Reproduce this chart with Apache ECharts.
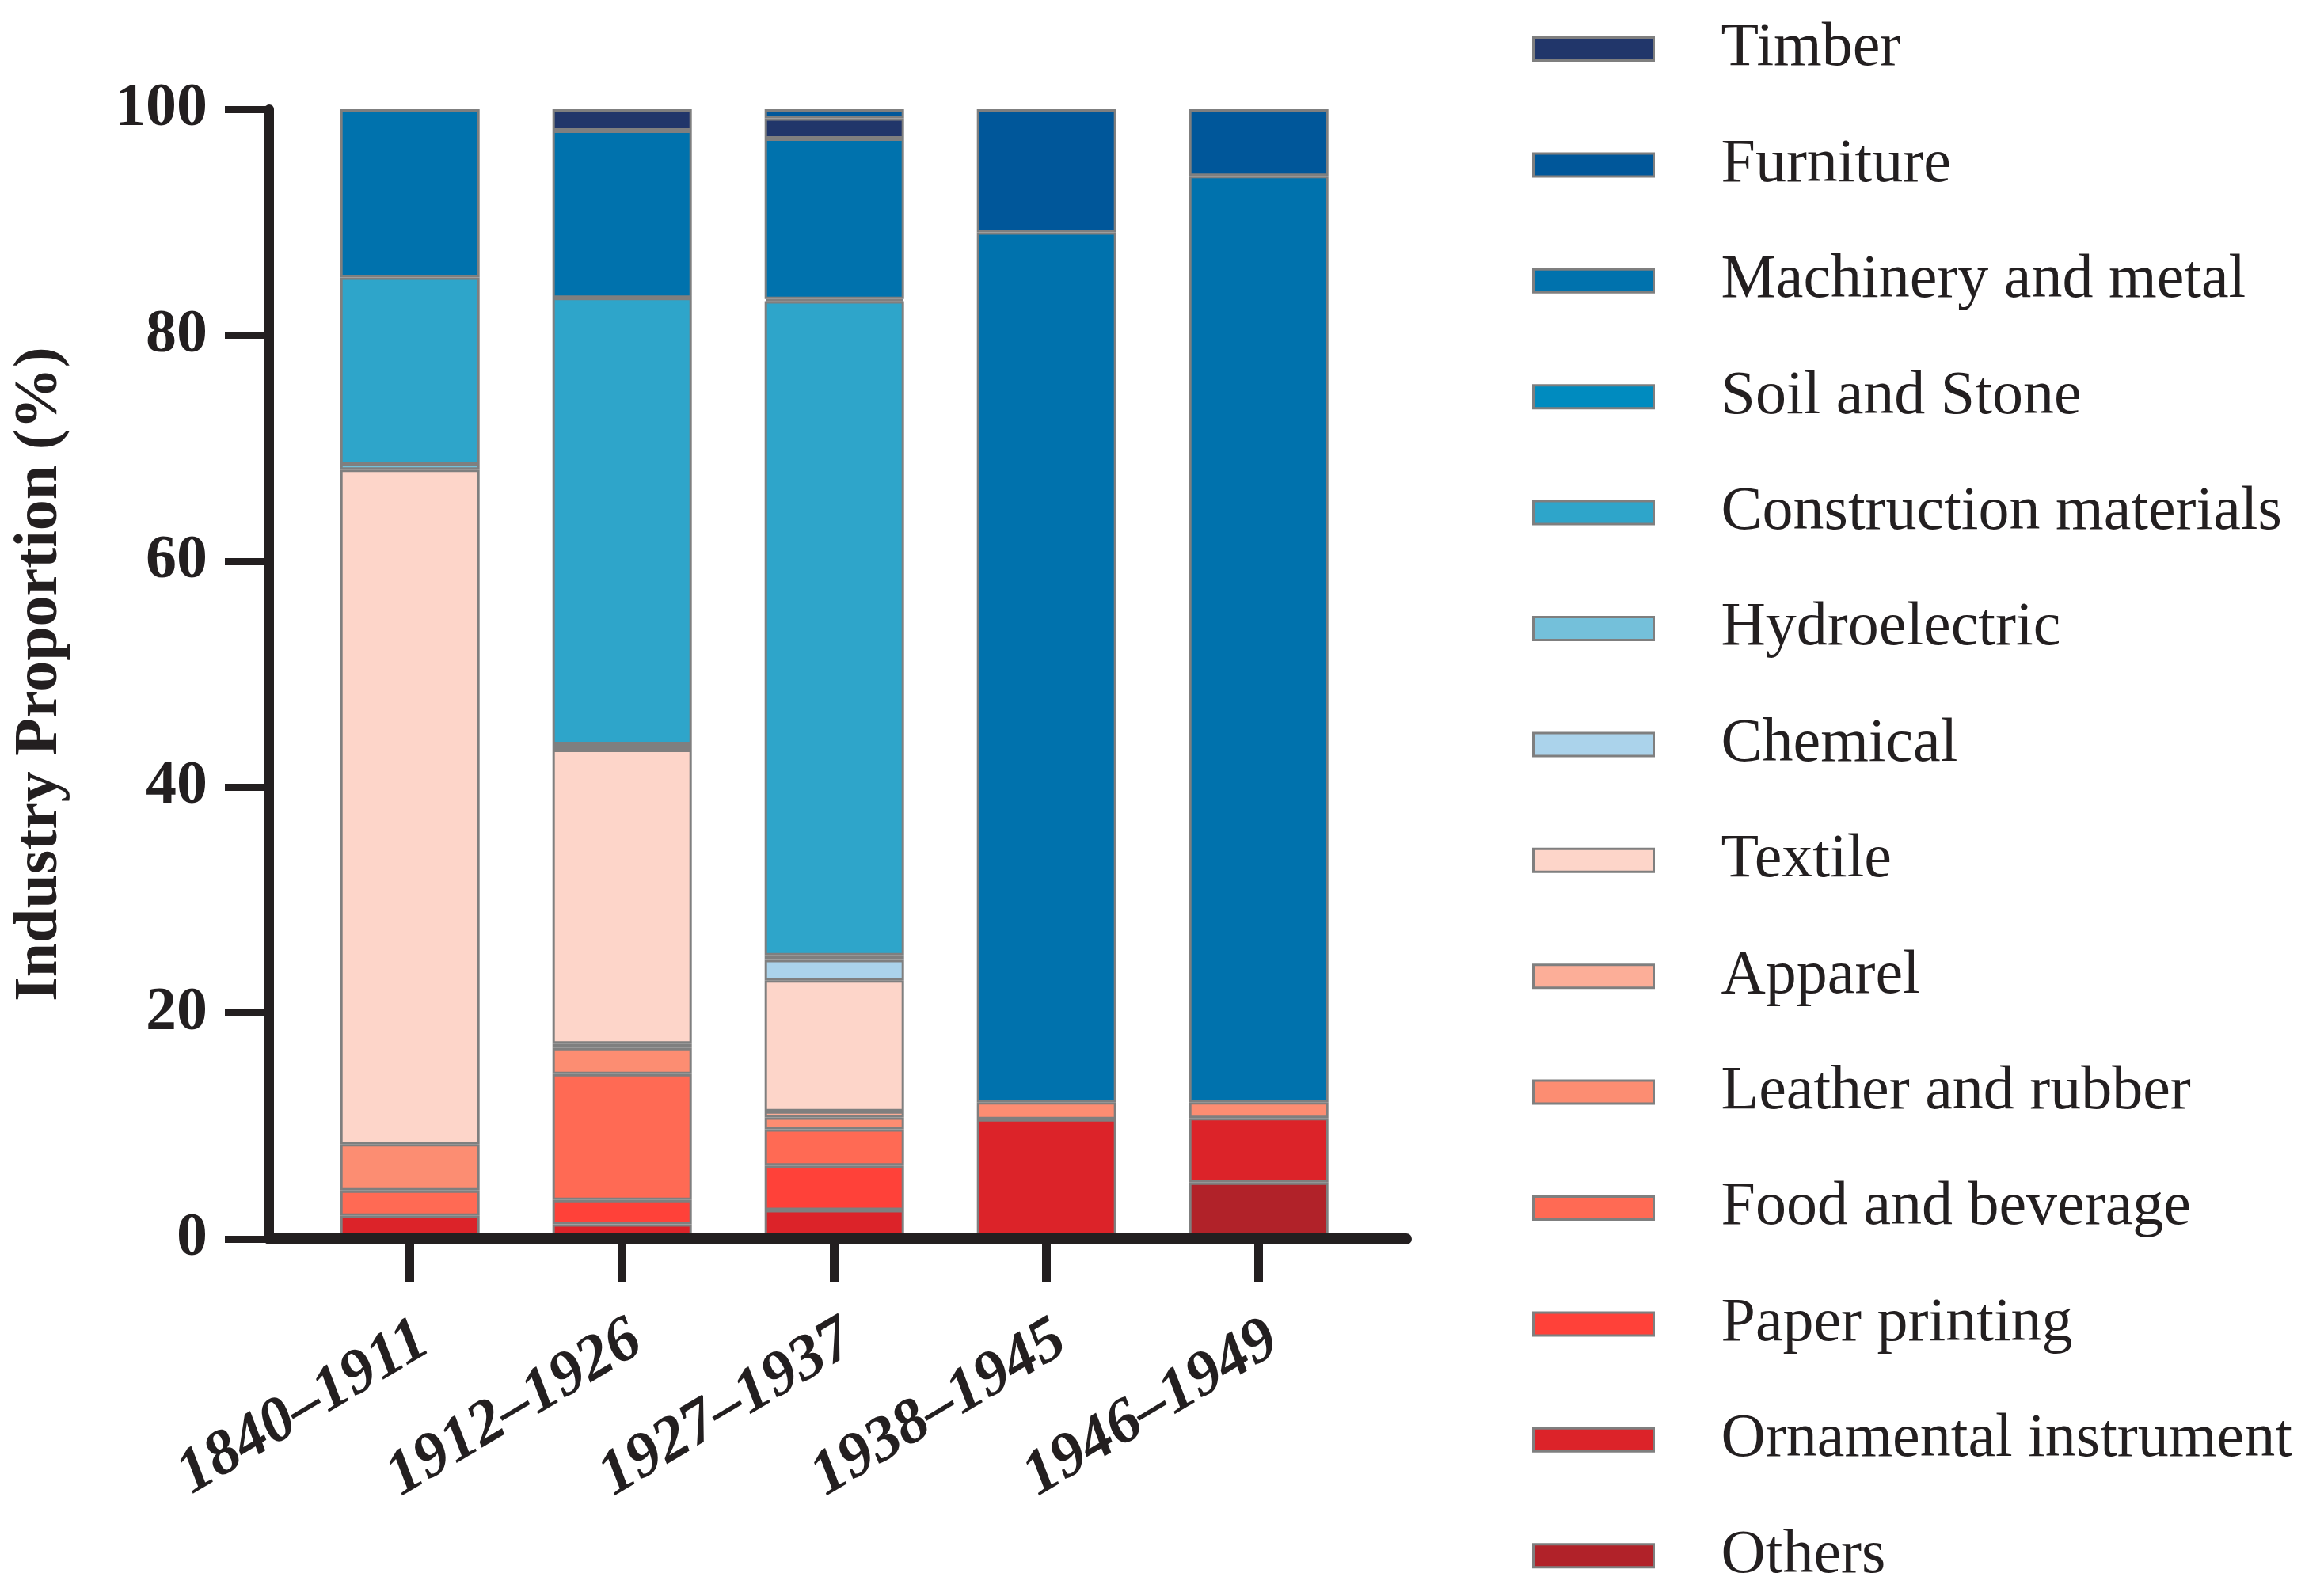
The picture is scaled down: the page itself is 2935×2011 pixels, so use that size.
<!DOCTYPE html>
<html>
<head>
<meta charset="utf-8">
<script src="https://cdn.jsdelivr.net/npm/echarts@6/dist/echarts.min.js"></script>
<style>
html,body{margin:0;padding:0;background:#fff;}
#chart{width:2935px;height:2011px;}
</style>
</head>
<body>
<div id="chart"></div>
<script>
const categories = ['1840–1911', '1912–1926', '1927–1937', '1938–1945', '1946–1949'];
const yTicks = [0, 20, 40, 60, 80, 100];

// values (%) per period, stacked bottom -> top
const others       = [0,     0,     0,     0,    5.0];
const ornamental   = [2.05,  1.3,   2.55,  10.6, 5.7];
const paper        = [0,     2.15,  3.95,  0,    0];
const food         = [2.25,  11.15, 3.2,   0,    0];
const leather      = [4.1,   2.3,   1.05,  1.5,  1.4];
const apparel      = [0,     0.4,   0.55,  0,    0];
const textile      = [59.7,  26.0,  11.6,  0,    0];
const chemical     = [0,     0,     1.8,   0,    0];
const hydro        = [0.5,   0.5,   0.4,   0,    0];
const construction = [16.5,  39.5,  57.9,  0,    0];
const soil         = [0,     0,     0.2,   0,    0];
const machinery    = [14.9,  14.8,  14.2,  77.0, 82.0];
const timber       = [0,     1.9,   1.8,   0,    0];
const furniture    = [0,     0,     0.8,   10.9, 5.9];

const stackOrder = [
  ['Others', others, '#B12229'],
  ['Ornamental instrument', ornamental, '#DC2329'],
  ['Paper printing', paper, '#FF4139'],
  ['Food and beverage', food, '#FF6A54'],
  ['Leather and rubber', leather, '#FC8D72'],
  ['Apparel', apparel, '#FCAE98'],
  ['Textile', textile, '#FDD5C9'],
  ['Chemical', chemical, '#ABD3EB'],
  ['Hydroelectric', hydro, '#74C0DA'],
  ['Construction materials', construction, '#2EA5CA'],
  ['Soil and Stone', soil, '#008BBF'],
  ['Machinery and metal', machinery, '#0072AD'],
  ['Timber', timber, '#21366A'],
  ['Furniture', furniture, '#00579A']
];
const legendOrder = ['Timber', 'Furniture', 'Machinery and metal', 'Soil and Stone',
  'Construction materials', 'Hydroelectric', 'Chemical', 'Textile', 'Apparel',
  'Leather and rubber', 'Food and beverage', 'Paper printing', 'Ornamental instrument', 'Others'];

const FONT = 'Liberation Serif';
const INK = '#231F20';
const catIdx = categories.map((c, i) => i);

const series = stackOrder.map(([name, vals, color]) => ({
  name: name,
  type: 'bar',
  stack: 'total',
  xAxisIndex: 1,
  yAxisIndex: 1,
  barWidth: 176,
  data: vals.map(v => (v === 0 ? '-' : v)),
  itemStyle: { color: color, borderColor: '#7F7F7F', borderWidth: 3 },
  emphasis: { disabled: true }
}));

const chart = echarts.init(document.getElementById('chart'), null, { renderer: 'canvas' });
chart.setOption({
  animation: false,
  backgroundColor: '#ffffff',
  grid: [
    { left: 340, right: 1159, top: 138, bottom: 446, containLabel: false },
    { left: 383.7, right: 1211.3, top: 138, bottom: 446, containLabel: false }
  ],
  legend: {
    orient: 'vertical',
    left: 1935,
    top: 22,
    height: 1989,
    padding: 0,
    itemWidth: 152,
    itemHeight: 29,
    itemGap: 66.4,
    icon: 'rect',
    data: legendOrder,
    itemStyle: { borderColor: '#7F7F7F', borderWidth: 3 },
    textStyle: { fontFamily: FONT, fontSize: 78, color: INK, lineHeight: 80, padding: [0, 0, 0, 80] }
  },
  xAxis: [
    {
      gridIndex: 0,
      type: 'value',
      min: -0.662,
      max: 4.695,
      z: 10,
      splitLine: { show: false },
      axisLine: { show: true, onZero: false, lineStyle: { color: INK, width: 14 } },
      axisTick: { show: true, length: 54, lineStyle: { color: INK, width: 11 }, customValues: catIdx },
      axisLabel: {
        customValues: catIdx.map(i => i + 0.07),
        formatter: v => categories[Math.round(v)],
        rotate: 31,
        margin: 122,
        fontFamily: FONT, fontSize: 80, fontWeight: 'bold', fontStyle: 'italic', color: INK
      }
    },
    {
      gridIndex: 1,
      type: 'category',
      data: categories,
      show: false
    }
  ],
  yAxis: [
    {
      gridIndex: 0,
      type: 'value',
      min: 0, max: 100, interval: 20,
      z: 10,
      name: 'Industry Proportion (%)',
      nameLocation: 'middle',
      nameGap: 250,
      nameTextStyle: { fontFamily: FONT, fontSize: 78, fontWeight: 'bold', color: INK },
      splitLine: { show: false },
      axisLine: { show: true, onZero: false, lineStyle: { color: INK, width: 12 } },
      axisTick: { show: true, length: 56, lineStyle: { color: INK, width: 9 } },
      axisLabel: {
        margin: 78,
        formatter: v => (yTicks.indexOf(v) >= 0 ? String(v) : ''),
        fontFamily: FONT, fontSize: 78, fontWeight: 'bold', color: INK
      }
    },
    {
      gridIndex: 1,
      type: 'value',
      min: 0, max: 100,
      show: false
    }
  ],
  series: series
});
</script>
</body>
</html>
